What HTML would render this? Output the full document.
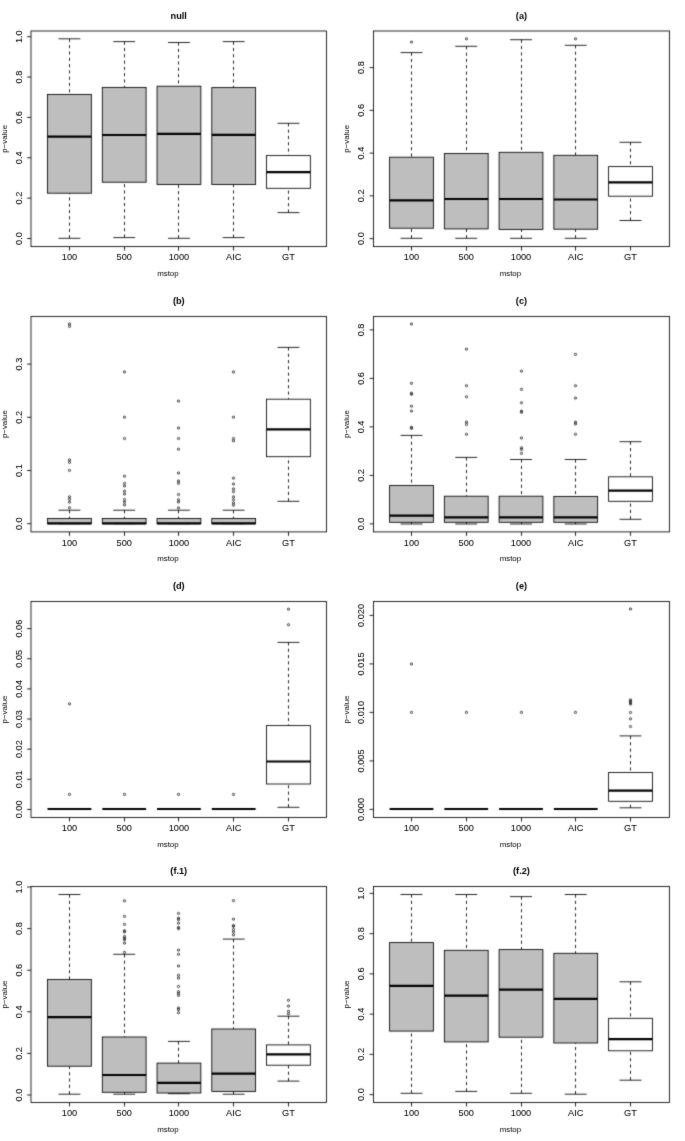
<!DOCTYPE html>
<html><head><meta charset="utf-8"><title>boxplots</title>
<style>
html,body{margin:0;padding:0;background:#fff;overflow:hidden;}
svg{display:block;}

text{font-family:"Liberation Sans",sans-serif;fill:#000;}
.xt{font-size:9.2px;text-anchor:middle;fill:#000;stroke:#000;stroke-width:0.05px;}
.yt{font-size:9.2px;text-anchor:middle;fill:#000;stroke:#000;stroke-width:0.05px;}
.ti{font-size:9.2px;font-weight:bold;text-anchor:middle;}
.xl{font-size:7.9px;text-anchor:middle;fill:#000;}
.yl{font-size:7.9px;text-anchor:middle;fill:#000;}
.wh{stroke:#000;stroke-width:0.85;stroke-dasharray:3.15 3.15;fill:none;}
.st{stroke:#000;stroke-width:0.85;}
.bx{stroke:#000;stroke-width:0.85;}
.md{stroke:#000;stroke-width:2.2;stroke-linecap:butt;}
.ol{stroke:#000;stroke-width:0.75;fill:none;}
.fr{stroke:#000;stroke-width:0.85;fill:none;}
.tk{stroke:#000;stroke-width:0.85;}
</style></head>
<body>
<svg width="685" height="1141" viewBox="0 0 685 1141">
<defs><filter id="bl" x="0" y="0" width="685" height="1141" filterUnits="userSpaceOnUse" color-interpolation-filters="sRGB"><feConvolveMatrix order="3" kernelMatrix="0.0196 0.1008 0.0196 0.1008 0.5184 0.1008 0.0196 0.1008 0.0196" divisor="1" edgeMode="duplicate" preserveAlpha="true"/></filter>
<filter id="bt" x="0" y="0" width="685" height="1141" filterUnits="userSpaceOnUse" color-interpolation-filters="sRGB"><feConvolveMatrix order="3" kernelMatrix="0.0064 0.0672 0.0064 0.0672 0.7056 0.0672 0.0064 0.0672 0.0064" divisor="1" edgeMode="none" preserveAlpha="false"/></filter></defs>
<g filter="url(#bl)">
<rect width="685" height="1141" fill="#fff"/>
<line x1="69.5" y1="38.8" x2="69.5" y2="94.4" class="wh"/>
<line x1="69.5" y1="238.3" x2="69.5" y2="193.2" class="wh"/>
<line x1="58.5" y1="38.8" x2="80.4" y2="38.8" class="st"/>
<line x1="58.5" y1="238.3" x2="80.4" y2="238.3" class="st"/>
<rect x="47.55" y="94.4" width="43.8" height="98.8" fill="#bebebe" class="bx"/>
<line x1="47.55" y1="136.7" x2="91.35" y2="136.7" class="md"/>
<line x1="124.5" y1="41.6" x2="124.5" y2="87.4" class="wh"/>
<line x1="124.5" y1="237.6" x2="124.5" y2="182.2" class="wh"/>
<line x1="113.25" y1="41.6" x2="135.15" y2="41.6" class="st"/>
<line x1="113.25" y1="237.6" x2="135.15" y2="237.6" class="st"/>
<rect x="102.3" y="87.4" width="43.8" height="94.8" fill="#bebebe" class="bx"/>
<line x1="102.3" y1="135" x2="146.1" y2="135" class="md"/>
<line x1="178.5" y1="42.5" x2="178.5" y2="86.2" class="wh"/>
<line x1="178.5" y1="238.3" x2="178.5" y2="184.5" class="wh"/>
<line x1="168" y1="42.5" x2="189.9" y2="42.5" class="st"/>
<line x1="168" y1="238.3" x2="189.9" y2="238.3" class="st"/>
<rect x="157.05" y="86.2" width="43.8" height="98.3" fill="#bebebe" class="bx"/>
<line x1="157.05" y1="133.9" x2="200.85" y2="133.9" class="md"/>
<line x1="233.5" y1="41.6" x2="233.5" y2="87.6" class="wh"/>
<line x1="233.5" y1="237.6" x2="233.5" y2="184.5" class="wh"/>
<line x1="222.75" y1="41.6" x2="244.65" y2="41.6" class="st"/>
<line x1="222.75" y1="237.6" x2="244.65" y2="237.6" class="st"/>
<rect x="211.8" y="87.6" width="43.8" height="96.9" fill="#bebebe" class="bx"/>
<line x1="211.8" y1="134.8" x2="255.6" y2="134.8" class="md"/>
<line x1="288.5" y1="123.3" x2="288.5" y2="155.6" class="wh"/>
<line x1="288.5" y1="212.6" x2="288.5" y2="188.3" class="wh"/>
<line x1="277.5" y1="123.3" x2="299.4" y2="123.3" class="st"/>
<line x1="277.5" y1="212.6" x2="299.4" y2="212.6" class="st"/>
<rect x="266.55" y="155.6" width="43.8" height="32.7" fill="white" class="bx"/>
<line x1="266.55" y1="172.2" x2="310.35" y2="172.2" class="md"/>
<rect x="31" y="31" width="295.5" height="215.6" class="fr"/>
<line x1="69.5" y1="246.6" x2="69.5" y2="250.6" class="tk"/>
<line x1="124.5" y1="246.6" x2="124.5" y2="250.6" class="tk"/>
<line x1="178.5" y1="246.6" x2="178.5" y2="250.6" class="tk"/>
<line x1="233.5" y1="246.6" x2="233.5" y2="250.6" class="tk"/>
<line x1="288.5" y1="246.6" x2="288.5" y2="250.6" class="tk"/>
<line x1="27" y1="238.5" x2="31" y2="238.5" class="tk"/>
<line x1="27" y1="198.14" x2="31" y2="198.14" class="tk"/>
<line x1="27" y1="157.78" x2="31" y2="157.78" class="tk"/>
<line x1="27" y1="117.42" x2="31" y2="117.42" class="tk"/>
<line x1="27" y1="77.06" x2="31" y2="77.06" class="tk"/>
<line x1="27" y1="36.7" x2="31" y2="36.7" class="tk"/>
<line x1="411.5" y1="52.6" x2="411.5" y2="157.2" class="wh"/>
<line x1="411.5" y1="238.3" x2="411.5" y2="228.2" class="wh"/>
<line x1="400.55" y1="52.6" x2="422.45" y2="52.6" class="st"/>
<line x1="400.55" y1="238.3" x2="422.45" y2="238.3" class="st"/>
<rect x="389.6" y="157.2" width="43.8" height="71" fill="#bebebe" class="bx"/>
<line x1="389.6" y1="200.4" x2="433.4" y2="200.4" class="md"/>
<circle cx="411.5" cy="42.1" r="1.1" class="ol"/>
<line x1="466.5" y1="46.3" x2="466.5" y2="153.5" class="wh"/>
<line x1="466.5" y1="238.3" x2="466.5" y2="228.9" class="wh"/>
<line x1="455.3" y1="46.3" x2="477.2" y2="46.3" class="st"/>
<line x1="455.3" y1="238.3" x2="477.2" y2="238.3" class="st"/>
<rect x="444.35" y="153.5" width="43.8" height="75.4" fill="#bebebe" class="bx"/>
<line x1="444.35" y1="199" x2="488.15" y2="199" class="md"/>
<circle cx="466.5" cy="38.8" r="1.1" class="ol"/>
<line x1="521.5" y1="39.7" x2="521.5" y2="152.3" class="wh"/>
<line x1="521.5" y1="238.3" x2="521.5" y2="229.4" class="wh"/>
<line x1="510.05" y1="39.7" x2="531.95" y2="39.7" class="st"/>
<line x1="510.05" y1="238.3" x2="531.95" y2="238.3" class="st"/>
<rect x="499.1" y="152.3" width="43.8" height="77.1" fill="#bebebe" class="bx"/>
<line x1="499.1" y1="199" x2="542.9" y2="199" class="md"/>
<line x1="575.5" y1="45.3" x2="575.5" y2="155.3" class="wh"/>
<line x1="575.5" y1="238.3" x2="575.5" y2="229.2" class="wh"/>
<line x1="564.8" y1="45.3" x2="586.7" y2="45.3" class="st"/>
<line x1="564.8" y1="238.3" x2="586.7" y2="238.3" class="st"/>
<rect x="553.85" y="155.3" width="43.8" height="73.9" fill="#bebebe" class="bx"/>
<line x1="553.85" y1="199.5" x2="597.65" y2="199.5" class="md"/>
<circle cx="575.5" cy="38.8" r="1.1" class="ol"/>
<line x1="630.5" y1="142.3" x2="630.5" y2="166.6" class="wh"/>
<line x1="630.5" y1="220.5" x2="630.5" y2="196.2" class="wh"/>
<line x1="619.55" y1="142.3" x2="641.45" y2="142.3" class="st"/>
<line x1="619.55" y1="220.5" x2="641.45" y2="220.5" class="st"/>
<rect x="608.6" y="166.6" width="43.8" height="29.6" fill="white" class="bx"/>
<line x1="608.6" y1="182.4" x2="652.4" y2="182.4" class="md"/>
<rect x="373.5" y="31" width="295.9" height="215.6" class="fr"/>
<line x1="411.5" y1="246.6" x2="411.5" y2="250.6" class="tk"/>
<line x1="466.5" y1="246.6" x2="466.5" y2="250.6" class="tk"/>
<line x1="521.5" y1="246.6" x2="521.5" y2="250.6" class="tk"/>
<line x1="575.5" y1="246.6" x2="575.5" y2="250.6" class="tk"/>
<line x1="630.5" y1="246.6" x2="630.5" y2="250.6" class="tk"/>
<line x1="369.5" y1="238.6" x2="373.5" y2="238.6" class="tk"/>
<line x1="369.5" y1="195.85" x2="373.5" y2="195.85" class="tk"/>
<line x1="369.5" y1="153.1" x2="373.5" y2="153.1" class="tk"/>
<line x1="369.5" y1="110.35" x2="373.5" y2="110.35" class="tk"/>
<line x1="369.5" y1="67.6" x2="373.5" y2="67.6" class="tk"/>
<line x1="69.5" y1="510.2" x2="69.5" y2="518.5" class="wh"/>
<line x1="58.5" y1="510.2" x2="80.4" y2="510.2" class="st"/>
<line x1="58.5" y1="523.7" x2="80.4" y2="523.7" class="st"/>
<rect x="47.55" y="518.5" width="43.8" height="5.2" fill="#bebebe" class="bx"/>
<line x1="47.55" y1="523.4" x2="91.35" y2="523.4" class="md"/>
<circle cx="69.5" cy="324" r="1.1" class="ol"/>
<circle cx="69.5" cy="326.4" r="1.1" class="ol"/>
<circle cx="69.5" cy="459.9" r="1.1" class="ol"/>
<circle cx="69.5" cy="462.4" r="1.1" class="ol"/>
<circle cx="69.5" cy="470.4" r="1.1" class="ol"/>
<circle cx="69.5" cy="496.8" r="1.1" class="ol"/>
<circle cx="69.5" cy="499.3" r="1.1" class="ol"/>
<circle cx="69.5" cy="502.1" r="1.1" class="ol"/>
<circle cx="69.5" cy="507.7" r="1.1" class="ol"/>
<line x1="124.5" y1="510.2" x2="124.5" y2="518.5" class="wh"/>
<line x1="113.25" y1="510.2" x2="135.15" y2="510.2" class="st"/>
<line x1="113.25" y1="523.7" x2="135.15" y2="523.7" class="st"/>
<rect x="102.3" y="518.5" width="43.8" height="5.2" fill="#bebebe" class="bx"/>
<line x1="102.3" y1="523.4" x2="146.1" y2="523.4" class="md"/>
<circle cx="124.5" cy="371.9" r="1.1" class="ol"/>
<circle cx="124.5" cy="417.2" r="1.1" class="ol"/>
<circle cx="124.5" cy="438.5" r="1.1" class="ol"/>
<circle cx="124.5" cy="476.2" r="1.1" class="ol"/>
<circle cx="124.5" cy="483.4" r="1.1" class="ol"/>
<circle cx="124.5" cy="486" r="1.1" class="ol"/>
<circle cx="124.5" cy="491.2" r="1.1" class="ol"/>
<circle cx="124.5" cy="494" r="1.1" class="ol"/>
<circle cx="124.5" cy="499.6" r="1.1" class="ol"/>
<circle cx="124.5" cy="502.1" r="1.1" class="ol"/>
<circle cx="124.5" cy="504.9" r="1.1" class="ol"/>
<line x1="178.5" y1="510.2" x2="178.5" y2="518.5" class="wh"/>
<line x1="168" y1="510.2" x2="189.9" y2="510.2" class="st"/>
<line x1="168" y1="523.7" x2="189.9" y2="523.7" class="st"/>
<rect x="157.05" y="518.5" width="43.8" height="5.2" fill="#bebebe" class="bx"/>
<line x1="157.05" y1="523.4" x2="200.85" y2="523.4" class="md"/>
<circle cx="178.5" cy="401.1" r="1.1" class="ol"/>
<circle cx="178.5" cy="428" r="1.1" class="ol"/>
<circle cx="178.5" cy="438.5" r="1.1" class="ol"/>
<circle cx="178.5" cy="449.2" r="1.1" class="ol"/>
<circle cx="178.5" cy="473" r="1.1" class="ol"/>
<circle cx="178.5" cy="481" r="1.1" class="ol"/>
<circle cx="178.5" cy="483.3" r="1.1" class="ol"/>
<circle cx="178.5" cy="494.5" r="1.1" class="ol"/>
<circle cx="178.5" cy="499.7" r="1.1" class="ol"/>
<circle cx="178.5" cy="502" r="1.1" class="ol"/>
<circle cx="178.5" cy="507.9" r="1.1" class="ol"/>
<line x1="233.5" y1="510.2" x2="233.5" y2="518.5" class="wh"/>
<line x1="222.75" y1="510.2" x2="244.65" y2="510.2" class="st"/>
<line x1="222.75" y1="523.7" x2="244.65" y2="523.7" class="st"/>
<rect x="211.8" y="518.5" width="43.8" height="5.2" fill="#bebebe" class="bx"/>
<line x1="211.8" y1="523.4" x2="255.6" y2="523.4" class="md"/>
<circle cx="233.5" cy="371.9" r="1.1" class="ol"/>
<circle cx="233.5" cy="417.2" r="1.1" class="ol"/>
<circle cx="233.5" cy="438.5" r="1.1" class="ol"/>
<circle cx="233.5" cy="440.8" r="1.1" class="ol"/>
<circle cx="233.5" cy="478.2" r="1.1" class="ol"/>
<circle cx="233.5" cy="484" r="1.1" class="ol"/>
<circle cx="233.5" cy="488.9" r="1.1" class="ol"/>
<circle cx="233.5" cy="491.7" r="1.1" class="ol"/>
<circle cx="233.5" cy="496.9" r="1.1" class="ol"/>
<circle cx="233.5" cy="499.7" r="1.1" class="ol"/>
<circle cx="233.5" cy="502.9" r="1.1" class="ol"/>
<circle cx="233.5" cy="505.3" r="1.1" class="ol"/>
<line x1="288.5" y1="347.4" x2="288.5" y2="399.2" class="wh"/>
<line x1="288.5" y1="501.3" x2="288.5" y2="456.7" class="wh"/>
<line x1="277.5" y1="347.4" x2="299.4" y2="347.4" class="st"/>
<line x1="277.5" y1="501.3" x2="299.4" y2="501.3" class="st"/>
<rect x="266.55" y="399.2" width="43.8" height="57.5" fill="white" class="bx"/>
<line x1="266.55" y1="429.4" x2="310.35" y2="429.4" class="md"/>
<rect x="31" y="316.4" width="295.5" height="215.5" class="fr"/>
<line x1="69.5" y1="531.9" x2="69.5" y2="535.9" class="tk"/>
<line x1="124.5" y1="531.9" x2="124.5" y2="535.9" class="tk"/>
<line x1="178.5" y1="531.9" x2="178.5" y2="535.9" class="tk"/>
<line x1="233.5" y1="531.9" x2="233.5" y2="535.9" class="tk"/>
<line x1="288.5" y1="531.9" x2="288.5" y2="535.9" class="tk"/>
<line x1="27" y1="523.7" x2="31" y2="523.7" class="tk"/>
<line x1="27" y1="470.5" x2="31" y2="470.5" class="tk"/>
<line x1="27" y1="417.3" x2="31" y2="417.3" class="tk"/>
<line x1="27" y1="364.1" x2="31" y2="364.1" class="tk"/>
<line x1="411.5" y1="435.4" x2="411.5" y2="485.4" class="wh"/>
<line x1="411.5" y1="524" x2="411.5" y2="522.3" class="wh"/>
<line x1="400.55" y1="435.4" x2="422.45" y2="435.4" class="st"/>
<line x1="400.55" y1="524" x2="422.45" y2="524" class="st"/>
<rect x="389.6" y="485.4" width="43.8" height="36.9" fill="#bebebe" class="bx"/>
<line x1="389.6" y1="515.6" x2="433.4" y2="515.6" class="md"/>
<circle cx="411.5" cy="324" r="1.1" class="ol"/>
<circle cx="411.5" cy="383.3" r="1.1" class="ol"/>
<circle cx="411.5" cy="393.2" r="1.1" class="ol"/>
<circle cx="411.5" cy="394.3" r="1.1" class="ol"/>
<circle cx="411.5" cy="406.2" r="1.1" class="ol"/>
<circle cx="411.5" cy="411.1" r="1.1" class="ol"/>
<circle cx="411.5" cy="427.3" r="1.1" class="ol"/>
<circle cx="411.5" cy="428.4" r="1.1" class="ol"/>
<line x1="466.5" y1="457.4" x2="466.5" y2="496.2" class="wh"/>
<line x1="466.5" y1="524" x2="466.5" y2="522.3" class="wh"/>
<line x1="455.3" y1="457.4" x2="477.2" y2="457.4" class="st"/>
<line x1="455.3" y1="524" x2="477.2" y2="524" class="st"/>
<rect x="444.35" y="496.2" width="43.8" height="26.1" fill="#bebebe" class="bx"/>
<line x1="444.35" y1="517.4" x2="488.15" y2="517.4" class="md"/>
<circle cx="466.5" cy="349.2" r="1.1" class="ol"/>
<circle cx="466.5" cy="385.7" r="1.1" class="ol"/>
<circle cx="466.5" cy="396.7" r="1.1" class="ol"/>
<circle cx="466.5" cy="422.1" r="1.1" class="ol"/>
<circle cx="466.5" cy="424.5" r="1.1" class="ol"/>
<circle cx="466.5" cy="434.3" r="1.1" class="ol"/>
<line x1="521.5" y1="459.5" x2="521.5" y2="496.2" class="wh"/>
<line x1="521.5" y1="524" x2="521.5" y2="522.3" class="wh"/>
<line x1="510.05" y1="459.5" x2="531.95" y2="459.5" class="st"/>
<line x1="510.05" y1="524" x2="531.95" y2="524" class="st"/>
<rect x="499.1" y="496.2" width="43.8" height="26.1" fill="#bebebe" class="bx"/>
<line x1="499.1" y1="517.4" x2="542.9" y2="517.4" class="md"/>
<circle cx="521.5" cy="371.2" r="1.1" class="ol"/>
<circle cx="521.5" cy="389.4" r="1.1" class="ol"/>
<circle cx="521.5" cy="402.7" r="1.1" class="ol"/>
<circle cx="521.5" cy="411.1" r="1.1" class="ol"/>
<circle cx="521.5" cy="412.3" r="1.1" class="ol"/>
<circle cx="521.5" cy="438" r="1.1" class="ol"/>
<circle cx="521.5" cy="447.8" r="1.1" class="ol"/>
<circle cx="521.5" cy="449.5" r="1.1" class="ol"/>
<circle cx="521.5" cy="453.4" r="1.1" class="ol"/>
<line x1="575.5" y1="459.5" x2="575.5" y2="496.4" class="wh"/>
<line x1="575.5" y1="524" x2="575.5" y2="522.3" class="wh"/>
<line x1="564.8" y1="459.5" x2="586.7" y2="459.5" class="st"/>
<line x1="564.8" y1="524" x2="586.7" y2="524" class="st"/>
<rect x="553.85" y="496.4" width="43.8" height="25.9" fill="#bebebe" class="bx"/>
<line x1="553.85" y1="517.4" x2="597.65" y2="517.4" class="md"/>
<circle cx="575.5" cy="354.4" r="1.1" class="ol"/>
<circle cx="575.5" cy="385.7" r="1.1" class="ol"/>
<circle cx="575.5" cy="398.1" r="1.1" class="ol"/>
<circle cx="575.5" cy="422.1" r="1.1" class="ol"/>
<circle cx="575.5" cy="424" r="1.1" class="ol"/>
<circle cx="575.5" cy="434.3" r="1.1" class="ol"/>
<line x1="630.5" y1="441.7" x2="630.5" y2="476.8" class="wh"/>
<line x1="630.5" y1="519.3" x2="630.5" y2="501.3" class="wh"/>
<line x1="619.55" y1="441.7" x2="641.45" y2="441.7" class="st"/>
<line x1="619.55" y1="519.3" x2="641.45" y2="519.3" class="st"/>
<rect x="608.6" y="476.8" width="43.8" height="24.5" fill="white" class="bx"/>
<line x1="608.6" y1="490.6" x2="652.4" y2="490.6" class="md"/>
<rect x="373.5" y="316.4" width="295.9" height="215.5" class="fr"/>
<line x1="411.5" y1="531.9" x2="411.5" y2="535.9" class="tk"/>
<line x1="466.5" y1="531.9" x2="466.5" y2="535.9" class="tk"/>
<line x1="521.5" y1="531.9" x2="521.5" y2="535.9" class="tk"/>
<line x1="575.5" y1="531.9" x2="575.5" y2="535.9" class="tk"/>
<line x1="630.5" y1="531.9" x2="630.5" y2="535.9" class="tk"/>
<line x1="369.5" y1="523.9" x2="373.5" y2="523.9" class="tk"/>
<line x1="369.5" y1="475.4" x2="373.5" y2="475.4" class="tk"/>
<line x1="369.5" y1="426.9" x2="373.5" y2="426.9" class="tk"/>
<line x1="369.5" y1="378.4" x2="373.5" y2="378.4" class="tk"/>
<line x1="369.5" y1="329.9" x2="373.5" y2="329.9" class="tk"/>
<line x1="58.5" y1="809" x2="80.4" y2="809" class="st"/>
<line x1="58.5" y1="809" x2="80.4" y2="809" class="st"/>
<rect x="47.55" y="809" width="43.8" height="0" fill="#bebebe" class="bx"/>
<line x1="47.55" y1="809" x2="91.35" y2="809" class="md"/>
<circle cx="69.5" cy="703.8" r="1.1" class="ol"/>
<circle cx="69.5" cy="794.4" r="1.1" class="ol"/>
<line x1="113.25" y1="809" x2="135.15" y2="809" class="st"/>
<line x1="113.25" y1="809" x2="135.15" y2="809" class="st"/>
<rect x="102.3" y="809" width="43.8" height="0" fill="#bebebe" class="bx"/>
<line x1="102.3" y1="809" x2="146.1" y2="809" class="md"/>
<circle cx="124.5" cy="794.4" r="1.1" class="ol"/>
<line x1="168" y1="809" x2="189.9" y2="809" class="st"/>
<line x1="168" y1="809" x2="189.9" y2="809" class="st"/>
<rect x="157.05" y="809" width="43.8" height="0" fill="#bebebe" class="bx"/>
<line x1="157.05" y1="809" x2="200.85" y2="809" class="md"/>
<circle cx="178.5" cy="794.4" r="1.1" class="ol"/>
<line x1="222.75" y1="809" x2="244.65" y2="809" class="st"/>
<line x1="222.75" y1="809" x2="244.65" y2="809" class="st"/>
<rect x="211.8" y="809" width="43.8" height="0" fill="#bebebe" class="bx"/>
<line x1="211.8" y1="809" x2="255.6" y2="809" class="md"/>
<circle cx="233.5" cy="794.4" r="1.1" class="ol"/>
<line x1="288.5" y1="642.4" x2="288.5" y2="725.6" class="wh"/>
<line x1="288.5" y1="807.3" x2="288.5" y2="784" class="wh"/>
<line x1="277.5" y1="642.4" x2="299.4" y2="642.4" class="st"/>
<line x1="277.5" y1="807.3" x2="299.4" y2="807.3" class="st"/>
<rect x="266.55" y="725.6" width="43.8" height="58.4" fill="white" class="bx"/>
<line x1="266.55" y1="761.5" x2="310.35" y2="761.5" class="md"/>
<circle cx="288.5" cy="609.2" r="1.1" class="ol"/>
<circle cx="288.5" cy="624.7" r="1.1" class="ol"/>
<rect x="31" y="601.5" width="295.5" height="216" class="fr"/>
<line x1="69.5" y1="817.5" x2="69.5" y2="821.5" class="tk"/>
<line x1="124.5" y1="817.5" x2="124.5" y2="821.5" class="tk"/>
<line x1="178.5" y1="817.5" x2="178.5" y2="821.5" class="tk"/>
<line x1="233.5" y1="817.5" x2="233.5" y2="821.5" class="tk"/>
<line x1="288.5" y1="817.5" x2="288.5" y2="821.5" class="tk"/>
<line x1="27" y1="809.4" x2="31" y2="809.4" class="tk"/>
<line x1="27" y1="779.27" x2="31" y2="779.27" class="tk"/>
<line x1="27" y1="749.14" x2="31" y2="749.14" class="tk"/>
<line x1="27" y1="719.01" x2="31" y2="719.01" class="tk"/>
<line x1="27" y1="688.88" x2="31" y2="688.88" class="tk"/>
<line x1="27" y1="658.75" x2="31" y2="658.75" class="tk"/>
<line x1="27" y1="628.62" x2="31" y2="628.62" class="tk"/>
<line x1="400.55" y1="809" x2="422.45" y2="809" class="st"/>
<line x1="400.55" y1="809" x2="422.45" y2="809" class="st"/>
<rect x="389.6" y="809" width="43.8" height="0" fill="#bebebe" class="bx"/>
<line x1="389.6" y1="809" x2="433.4" y2="809" class="md"/>
<circle cx="411.5" cy="664" r="1.1" class="ol"/>
<circle cx="411.5" cy="712.4" r="1.1" class="ol"/>
<line x1="455.3" y1="809" x2="477.2" y2="809" class="st"/>
<line x1="455.3" y1="809" x2="477.2" y2="809" class="st"/>
<rect x="444.35" y="809" width="43.8" height="0" fill="#bebebe" class="bx"/>
<line x1="444.35" y1="809" x2="488.15" y2="809" class="md"/>
<circle cx="466.5" cy="712.4" r="1.1" class="ol"/>
<line x1="510.05" y1="809" x2="531.95" y2="809" class="st"/>
<line x1="510.05" y1="809" x2="531.95" y2="809" class="st"/>
<rect x="499.1" y="809" width="43.8" height="0" fill="#bebebe" class="bx"/>
<line x1="499.1" y1="809" x2="542.9" y2="809" class="md"/>
<circle cx="521.5" cy="712.4" r="1.1" class="ol"/>
<line x1="564.8" y1="809" x2="586.7" y2="809" class="st"/>
<line x1="564.8" y1="809" x2="586.7" y2="809" class="st"/>
<rect x="553.85" y="809" width="43.8" height="0" fill="#bebebe" class="bx"/>
<line x1="553.85" y1="809" x2="597.65" y2="809" class="md"/>
<circle cx="575.5" cy="712.4" r="1.1" class="ol"/>
<line x1="630.5" y1="735.9" x2="630.5" y2="772.5" class="wh"/>
<line x1="630.5" y1="807.8" x2="630.5" y2="801.3" class="wh"/>
<line x1="619.55" y1="735.9" x2="641.45" y2="735.9" class="st"/>
<line x1="619.55" y1="807.8" x2="641.45" y2="807.8" class="st"/>
<rect x="608.6" y="772.5" width="43.8" height="28.8" fill="white" class="bx"/>
<line x1="608.6" y1="790.7" x2="652.4" y2="790.7" class="md"/>
<circle cx="630.5" cy="609" r="1.1" class="ol"/>
<circle cx="630.5" cy="699.9" r="1.1" class="ol"/>
<circle cx="630.5" cy="701.3" r="1.1" class="ol"/>
<circle cx="630.5" cy="702.7" r="1.1" class="ol"/>
<circle cx="630.5" cy="704.1" r="1.1" class="ol"/>
<circle cx="630.5" cy="712.5" r="1.1" class="ol"/>
<circle cx="630.5" cy="718.8" r="1.1" class="ol"/>
<circle cx="630.5" cy="726.5" r="1.1" class="ol"/>
<rect x="373.5" y="601.5" width="295.9" height="216" class="fr"/>
<line x1="411.5" y1="817.5" x2="411.5" y2="821.5" class="tk"/>
<line x1="466.5" y1="817.5" x2="466.5" y2="821.5" class="tk"/>
<line x1="521.5" y1="817.5" x2="521.5" y2="821.5" class="tk"/>
<line x1="575.5" y1="817.5" x2="575.5" y2="821.5" class="tk"/>
<line x1="630.5" y1="817.5" x2="630.5" y2="821.5" class="tk"/>
<line x1="369.5" y1="809.4" x2="373.5" y2="809.4" class="tk"/>
<line x1="369.5" y1="760.9" x2="373.5" y2="760.9" class="tk"/>
<line x1="369.5" y1="712.4" x2="373.5" y2="712.4" class="tk"/>
<line x1="369.5" y1="663.9" x2="373.5" y2="663.9" class="tk"/>
<line x1="369.5" y1="615.4" x2="373.5" y2="615.4" class="tk"/>
<line x1="69.5" y1="894.5" x2="69.5" y2="979.5" class="wh"/>
<line x1="69.5" y1="1094.2" x2="69.5" y2="1066.2" class="wh"/>
<line x1="58.5" y1="894.5" x2="80.4" y2="894.5" class="st"/>
<line x1="58.5" y1="1094.2" x2="80.4" y2="1094.2" class="st"/>
<rect x="47.55" y="979.5" width="43.8" height="86.7" fill="#bebebe" class="bx"/>
<line x1="47.55" y1="1017.1" x2="91.35" y2="1017.1" class="md"/>
<line x1="124.5" y1="954.3" x2="124.5" y2="1037" class="wh"/>
<line x1="124.5" y1="1094.2" x2="124.5" y2="1092.3" class="wh"/>
<line x1="113.25" y1="954.3" x2="135.15" y2="954.3" class="st"/>
<line x1="113.25" y1="1094.2" x2="135.15" y2="1094.2" class="st"/>
<rect x="102.3" y="1037" width="43.8" height="55.3" fill="#bebebe" class="bx"/>
<line x1="102.3" y1="1075" x2="146.1" y2="1075" class="md"/>
<circle cx="124.5" cy="900.8" r="1.1" class="ol"/>
<circle cx="124.5" cy="916.4" r="1.1" class="ol"/>
<circle cx="124.5" cy="924.4" r="1.1" class="ol"/>
<circle cx="124.5" cy="930.7" r="1.1" class="ol"/>
<circle cx="124.5" cy="931.9" r="1.1" class="ol"/>
<circle cx="124.5" cy="936.5" r="1.1" class="ol"/>
<circle cx="124.5" cy="938.2" r="1.1" class="ol"/>
<circle cx="124.5" cy="939.8" r="1.1" class="ol"/>
<circle cx="124.5" cy="943.1" r="1.1" class="ol"/>
<circle cx="124.5" cy="952.4" r="1.1" class="ol"/>
<line x1="178.5" y1="1041.4" x2="178.5" y2="1063.1" class="wh"/>
<line x1="178.5" y1="1093.7" x2="178.5" y2="1093" class="wh"/>
<line x1="168" y1="1041.4" x2="189.9" y2="1041.4" class="st"/>
<line x1="168" y1="1093.7" x2="189.9" y2="1093.7" class="st"/>
<rect x="157.05" y="1063.1" width="43.8" height="29.9" fill="#bebebe" class="bx"/>
<line x1="157.05" y1="1082.8" x2="200.85" y2="1082.8" class="md"/>
<circle cx="178.5" cy="913.4" r="1.1" class="ol"/>
<circle cx="178.5" cy="918.1" r="1.1" class="ol"/>
<circle cx="178.5" cy="919.7" r="1.1" class="ol"/>
<circle cx="178.5" cy="923.2" r="1.1" class="ol"/>
<circle cx="178.5" cy="927.4" r="1.1" class="ol"/>
<circle cx="178.5" cy="928.6" r="1.1" class="ol"/>
<circle cx="178.5" cy="950.1" r="1.1" class="ol"/>
<circle cx="178.5" cy="954.3" r="1.1" class="ol"/>
<circle cx="178.5" cy="966" r="1.1" class="ol"/>
<circle cx="178.5" cy="975.3" r="1.1" class="ol"/>
<circle cx="178.5" cy="978.1" r="1.1" class="ol"/>
<circle cx="178.5" cy="986.5" r="1.1" class="ol"/>
<circle cx="178.5" cy="991.7" r="1.1" class="ol"/>
<circle cx="178.5" cy="993.5" r="1.1" class="ol"/>
<circle cx="178.5" cy="995.4" r="1.1" class="ol"/>
<circle cx="178.5" cy="1008" r="1.1" class="ol"/>
<circle cx="178.5" cy="1009.6" r="1.1" class="ol"/>
<circle cx="178.5" cy="1012.7" r="1.1" class="ol"/>
<line x1="233.5" y1="939.1" x2="233.5" y2="1029" class="wh"/>
<line x1="233.5" y1="1094.2" x2="233.5" y2="1091.4" class="wh"/>
<line x1="222.75" y1="939.1" x2="244.65" y2="939.1" class="st"/>
<line x1="222.75" y1="1094.2" x2="244.65" y2="1094.2" class="st"/>
<rect x="211.8" y="1029" width="43.8" height="62.4" fill="#bebebe" class="bx"/>
<line x1="211.8" y1="1073.6" x2="255.6" y2="1073.6" class="md"/>
<circle cx="233.5" cy="900.6" r="1.1" class="ol"/>
<circle cx="233.5" cy="919.2" r="1.1" class="ol"/>
<circle cx="233.5" cy="925.5" r="1.1" class="ol"/>
<circle cx="233.5" cy="926.3" r="1.1" class="ol"/>
<circle cx="233.5" cy="929.5" r="1.1" class="ol"/>
<circle cx="233.5" cy="931.9" r="1.1" class="ol"/>
<circle cx="233.5" cy="934.9" r="1.1" class="ol"/>
<line x1="288.5" y1="1016.2" x2="288.5" y2="1044.9" class="wh"/>
<line x1="288.5" y1="1081.1" x2="288.5" y2="1065.2" class="wh"/>
<line x1="277.5" y1="1016.2" x2="299.4" y2="1016.2" class="st"/>
<line x1="277.5" y1="1081.1" x2="299.4" y2="1081.1" class="st"/>
<rect x="266.55" y="1044.9" width="43.8" height="20.3" fill="white" class="bx"/>
<line x1="266.55" y1="1054.3" x2="310.35" y2="1054.3" class="md"/>
<circle cx="288.5" cy="1000.3" r="1.1" class="ol"/>
<circle cx="288.5" cy="1006.1" r="1.1" class="ol"/>
<circle cx="288.5" cy="1011.3" r="1.1" class="ol"/>
<circle cx="288.5" cy="1013.8" r="1.1" class="ol"/>
<rect x="31" y="886.5" width="295.5" height="216" class="fr"/>
<line x1="69.5" y1="1102.5" x2="69.5" y2="1106.5" class="tk"/>
<line x1="124.5" y1="1102.5" x2="124.5" y2="1106.5" class="tk"/>
<line x1="178.5" y1="1102.5" x2="178.5" y2="1106.5" class="tk"/>
<line x1="233.5" y1="1102.5" x2="233.5" y2="1106.5" class="tk"/>
<line x1="288.5" y1="1102.5" x2="288.5" y2="1106.5" class="tk"/>
<line x1="27" y1="1095" x2="31" y2="1095" class="tk"/>
<line x1="27" y1="1053.4" x2="31" y2="1053.4" class="tk"/>
<line x1="27" y1="1011.8" x2="31" y2="1011.8" class="tk"/>
<line x1="27" y1="970.2" x2="31" y2="970.2" class="tk"/>
<line x1="27" y1="928.6" x2="31" y2="928.6" class="tk"/>
<line x1="27" y1="887" x2="31" y2="887" class="tk"/>
<line x1="411.5" y1="894.5" x2="411.5" y2="942.6" class="wh"/>
<line x1="411.5" y1="1093.3" x2="411.5" y2="1031.1" class="wh"/>
<line x1="400.55" y1="894.5" x2="422.45" y2="894.5" class="st"/>
<line x1="400.55" y1="1093.3" x2="422.45" y2="1093.3" class="st"/>
<rect x="389.6" y="942.6" width="43.8" height="88.5" fill="#bebebe" class="bx"/>
<line x1="389.6" y1="985.8" x2="433.4" y2="985.8" class="md"/>
<line x1="466.5" y1="894.5" x2="466.5" y2="950.3" class="wh"/>
<line x1="466.5" y1="1091.4" x2="466.5" y2="1041.9" class="wh"/>
<line x1="455.3" y1="894.5" x2="477.2" y2="894.5" class="st"/>
<line x1="455.3" y1="1091.4" x2="477.2" y2="1091.4" class="st"/>
<rect x="444.35" y="950.3" width="43.8" height="91.6" fill="#bebebe" class="bx"/>
<line x1="444.35" y1="995.6" x2="488.15" y2="995.6" class="md"/>
<line x1="521.5" y1="896.6" x2="521.5" y2="949.6" class="wh"/>
<line x1="521.5" y1="1093.3" x2="521.5" y2="1037.2" class="wh"/>
<line x1="510.05" y1="896.6" x2="531.95" y2="896.6" class="st"/>
<line x1="510.05" y1="1093.3" x2="531.95" y2="1093.3" class="st"/>
<rect x="499.1" y="949.6" width="43.8" height="87.6" fill="#bebebe" class="bx"/>
<line x1="499.1" y1="989.6" x2="542.9" y2="989.6" class="md"/>
<line x1="575.5" y1="894.5" x2="575.5" y2="953.3" class="wh"/>
<line x1="575.5" y1="1094.2" x2="575.5" y2="1043" class="wh"/>
<line x1="564.8" y1="894.5" x2="586.7" y2="894.5" class="st"/>
<line x1="564.8" y1="1094.2" x2="586.7" y2="1094.2" class="st"/>
<rect x="553.85" y="953.3" width="43.8" height="89.7" fill="#bebebe" class="bx"/>
<line x1="553.85" y1="998.9" x2="597.65" y2="998.9" class="md"/>
<line x1="630.5" y1="981.8" x2="630.5" y2="1018.3" class="wh"/>
<line x1="630.5" y1="1080.2" x2="630.5" y2="1050.8" class="wh"/>
<line x1="619.55" y1="981.8" x2="641.45" y2="981.8" class="st"/>
<line x1="619.55" y1="1080.2" x2="641.45" y2="1080.2" class="st"/>
<rect x="608.6" y="1018.3" width="43.8" height="32.5" fill="white" class="bx"/>
<line x1="608.6" y1="1039.1" x2="652.4" y2="1039.1" class="md"/>
<rect x="373.5" y="886.5" width="295.9" height="216" class="fr"/>
<line x1="411.5" y1="1102.5" x2="411.5" y2="1106.5" class="tk"/>
<line x1="466.5" y1="1102.5" x2="466.5" y2="1106.5" class="tk"/>
<line x1="521.5" y1="1102.5" x2="521.5" y2="1106.5" class="tk"/>
<line x1="575.5" y1="1102.5" x2="575.5" y2="1106.5" class="tk"/>
<line x1="630.5" y1="1102.5" x2="630.5" y2="1106.5" class="tk"/>
<line x1="369.5" y1="1094.6" x2="373.5" y2="1094.6" class="tk"/>
<line x1="369.5" y1="1054.36" x2="373.5" y2="1054.36" class="tk"/>
<line x1="369.5" y1="1014.12" x2="373.5" y2="1014.12" class="tk"/>
<line x1="369.5" y1="973.88" x2="373.5" y2="973.88" class="tk"/>
<line x1="369.5" y1="933.64" x2="373.5" y2="933.64" class="tk"/>
<line x1="369.5" y1="893.4" x2="373.5" y2="893.4" class="tk"/>
</g>
<g filter="url(#bt)">
<text x="69.45" y="260.4" class="xt">100</text>
<text x="124.2" y="260.4" class="xt">500</text>
<text x="178.95" y="260.4" class="xt">1000</text>
<text x="233.7" y="260.4" class="xt">AIC</text>
<text x="288.45" y="260.4" class="xt">GT</text>
<text transform="translate(21.6,238.5) rotate(-90)" class="yt">0.0</text>
<text transform="translate(21.6,198.14) rotate(-90)" class="yt">0.2</text>
<text transform="translate(21.6,157.78) rotate(-90)" class="yt">0.4</text>
<text transform="translate(21.6,117.42) rotate(-90)" class="yt">0.6</text>
<text transform="translate(21.6,77.06) rotate(-90)" class="yt">0.8</text>
<text transform="translate(21.6,36.7) rotate(-90)" class="yt">1.0</text>
<text x="178.75" y="18.9" class="ti">null</text>
<text x="167.9" y="275.6" class="xl">mstop</text>
<text transform="translate(6.5,138.8) rotate(-90)" class="yl">p−value</text>
<text x="411.5" y="260.4" class="xt">100</text>
<text x="466.25" y="260.4" class="xt">500</text>
<text x="521" y="260.4" class="xt">1000</text>
<text x="575.75" y="260.4" class="xt">AIC</text>
<text x="630.5" y="260.4" class="xt">GT</text>
<text transform="translate(364.1,238.6) rotate(-90)" class="yt">0.0</text>
<text transform="translate(364.1,195.85) rotate(-90)" class="yt">0.2</text>
<text transform="translate(364.1,153.1) rotate(-90)" class="yt">0.4</text>
<text transform="translate(364.1,110.35) rotate(-90)" class="yt">0.6</text>
<text transform="translate(364.1,67.6) rotate(-90)" class="yt">0.8</text>
<text x="521.45" y="18.9" class="ti">(a)</text>
<text x="510.4" y="275.6" class="xl">mstop</text>
<text transform="translate(349,138.8) rotate(-90)" class="yl">p−value</text>
<text x="69.45" y="545.7" class="xt">100</text>
<text x="124.2" y="545.7" class="xt">500</text>
<text x="178.95" y="545.7" class="xt">1000</text>
<text x="233.7" y="545.7" class="xt">AIC</text>
<text x="288.45" y="545.7" class="xt">GT</text>
<text transform="translate(21.6,523.7) rotate(-90)" class="yt">0.0</text>
<text transform="translate(21.6,470.5) rotate(-90)" class="yt">0.1</text>
<text transform="translate(21.6,417.3) rotate(-90)" class="yt">0.2</text>
<text transform="translate(21.6,364.1) rotate(-90)" class="yt">0.3</text>
<text x="178.75" y="304.3" class="ti">(b)</text>
<text x="167.9" y="560.9" class="xl">mstop</text>
<text transform="translate(6.5,424.15) rotate(-90)" class="yl">p−value</text>
<text x="411.5" y="545.7" class="xt">100</text>
<text x="466.25" y="545.7" class="xt">500</text>
<text x="521" y="545.7" class="xt">1000</text>
<text x="575.75" y="545.7" class="xt">AIC</text>
<text x="630.5" y="545.7" class="xt">GT</text>
<text transform="translate(364.1,523.9) rotate(-90)" class="yt">0.0</text>
<text transform="translate(364.1,475.4) rotate(-90)" class="yt">0.2</text>
<text transform="translate(364.1,426.9) rotate(-90)" class="yt">0.4</text>
<text transform="translate(364.1,378.4) rotate(-90)" class="yt">0.6</text>
<text transform="translate(364.1,329.9) rotate(-90)" class="yt">0.8</text>
<text x="521.45" y="304.3" class="ti">(c)</text>
<text x="510.4" y="560.9" class="xl">mstop</text>
<text transform="translate(349,424.15) rotate(-90)" class="yl">p−value</text>
<text x="69.45" y="831.3" class="xt">100</text>
<text x="124.2" y="831.3" class="xt">500</text>
<text x="178.95" y="831.3" class="xt">1000</text>
<text x="233.7" y="831.3" class="xt">AIC</text>
<text x="288.45" y="831.3" class="xt">GT</text>
<text transform="translate(21.6,809.4) rotate(-90)" class="yt">0.00</text>
<text transform="translate(21.6,779.27) rotate(-90)" class="yt">0.01</text>
<text transform="translate(21.6,749.14) rotate(-90)" class="yt">0.02</text>
<text transform="translate(21.6,719.01) rotate(-90)" class="yt">0.03</text>
<text transform="translate(21.6,688.88) rotate(-90)" class="yt">0.04</text>
<text transform="translate(21.6,658.75) rotate(-90)" class="yt">0.05</text>
<text transform="translate(21.6,628.62) rotate(-90)" class="yt">0.06</text>
<text x="178.75" y="589.4" class="ti">(d)</text>
<text x="167.9" y="846.5" class="xl">mstop</text>
<text transform="translate(6.5,709.5) rotate(-90)" class="yl">p−value</text>
<text x="411.5" y="831.3" class="xt">100</text>
<text x="466.25" y="831.3" class="xt">500</text>
<text x="521" y="831.3" class="xt">1000</text>
<text x="575.75" y="831.3" class="xt">AIC</text>
<text x="630.5" y="831.3" class="xt">GT</text>
<text transform="translate(364.1,809.4) rotate(-90)" class="yt">0.000</text>
<text transform="translate(364.1,760.9) rotate(-90)" class="yt">0.005</text>
<text transform="translate(364.1,712.4) rotate(-90)" class="yt">0.010</text>
<text transform="translate(364.1,663.9) rotate(-90)" class="yt">0.015</text>
<text transform="translate(364.1,615.4) rotate(-90)" class="yt">0.020</text>
<text x="521.45" y="589.4" class="ti">(e)</text>
<text x="510.4" y="846.5" class="xl">mstop</text>
<text transform="translate(349,709.5) rotate(-90)" class="yl">p−value</text>
<text x="69.45" y="1116.3" class="xt">100</text>
<text x="124.2" y="1116.3" class="xt">500</text>
<text x="178.95" y="1116.3" class="xt">1000</text>
<text x="233.7" y="1116.3" class="xt">AIC</text>
<text x="288.45" y="1116.3" class="xt">GT</text>
<text transform="translate(21.6,1095) rotate(-90)" class="yt">0.0</text>
<text transform="translate(21.6,1053.4) rotate(-90)" class="yt">0.2</text>
<text transform="translate(21.6,1011.8) rotate(-90)" class="yt">0.4</text>
<text transform="translate(21.6,970.2) rotate(-90)" class="yt">0.6</text>
<text transform="translate(21.6,928.6) rotate(-90)" class="yt">0.8</text>
<text transform="translate(21.6,887) rotate(-90)" class="yt">1.0</text>
<text x="178.75" y="874.4" class="ti">(f.1)</text>
<text x="167.9" y="1131.5" class="xl">mstop</text>
<text transform="translate(6.5,994.5) rotate(-90)" class="yl">p−value</text>
<text x="411.5" y="1116.3" class="xt">100</text>
<text x="466.25" y="1116.3" class="xt">500</text>
<text x="521" y="1116.3" class="xt">1000</text>
<text x="575.75" y="1116.3" class="xt">AIC</text>
<text x="630.5" y="1116.3" class="xt">GT</text>
<text transform="translate(364.1,1094.6) rotate(-90)" class="yt">0.0</text>
<text transform="translate(364.1,1054.36) rotate(-90)" class="yt">0.2</text>
<text transform="translate(364.1,1014.12) rotate(-90)" class="yt">0.4</text>
<text transform="translate(364.1,973.88) rotate(-90)" class="yt">0.6</text>
<text transform="translate(364.1,933.64) rotate(-90)" class="yt">0.8</text>
<text transform="translate(364.1,893.4) rotate(-90)" class="yt">1.0</text>
<text x="521.45" y="874.4" class="ti">(f.2)</text>
<text x="510.4" y="1131.5" class="xl">mstop</text>
<text transform="translate(349,994.5) rotate(-90)" class="yl">p−value</text>
</g>
</svg>
</body></html>
